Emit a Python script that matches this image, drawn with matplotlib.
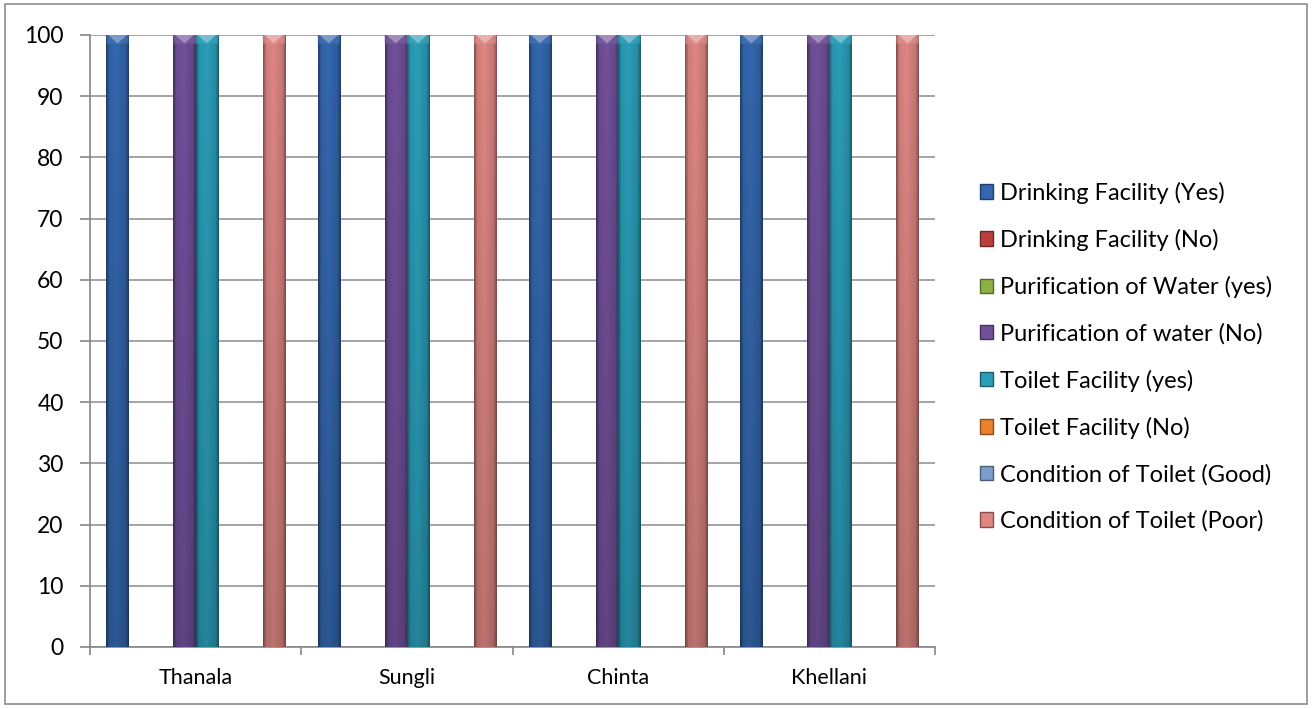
import numpy as np
import matplotlib
matplotlib.use("Agg")
import matplotlib.pyplot as plt
from matplotlib.patches import Rectangle, Polygon
from matplotlib.colors import to_rgb

plt.rcParams['font.family'] = ['Lato', 'DejaVu Sans']

villages = ["Thanala", "Sungli", "Chinta", "Khellani"]
series_names = [
    "Drinking Facility (Yes)",
    "Drinking Facility (No)",
    "Purification of Water (yes)",
    "Purification of water (No)",
    "Toilet Facility (yes)",
    "Toilet Facility (No)",
    "Condition of Toilet (Good)",
    "Condition of Toilet (Poor)",
]
drinking_yes = [100, 100, 100, 100]
drinking_no = [0, 0, 0, 0]
purification_yes = [0, 0, 0, 0]
purification_no = [100, 100, 100, 100]
toilet_yes = [100, 100, 100, 100]
toilet_no = [0, 0, 0, 0]
condition_good = [0, 0, 0, 0]
condition_poor = [100, 100, 100, 100]
series_values = [drinking_yes, drinking_no, purification_yes, purification_no,
                 toilet_yes, toilet_no, condition_good, condition_poor]
series_colors = ["#3467AE", "#B8403C", "#8DB046", "#71509A",
                 "#2B9DB8", "#E9822E", "#7E9CCB", "#DD8682"]


def shade(c, f):
    r = np.array(to_rgb(c))
    if f < 1:
        return tuple(r * f)
    return tuple(r + (1 - r) * (f - 1))


fig = plt.figure(figsize=(13.12, 7.08), dpi=100)
ax = fig.add_axes([0.0686, 0.0862, 0.6441, 0.8644])

n = len(series_names)
slot = 0.845 / n
x = np.arange(len(villages))

# horizontal profile for the bevelled look: dark edges, lighter middle
prof = np.concatenate([np.linspace(0.62, 0.95, 4), np.linspace(0.95, 1.0, 6),
                       np.linspace(1.0, 0.9, 8), np.linspace(0.9, 0.62, 4)])
vert = np.linspace(0.85, 1.0, 60)[:, None]

for j, (name, vals, col) in enumerate(zip(series_names, series_values, series_colors)):
    xs = x + (j - (n - 1) / 2) * slot
    bars = ax.bar(xs, vals, width=slot, color=col, edgecolor="none", zorder=3)
    base = np.array(to_rgb(col))
    for b in bars:
        h = b.get_height()
        if h <= 0:
            continue
        x0, w = b.get_x(), b.get_width()
        img = np.clip(base[None, None, :] * prof[None, :, None] * vert[:, :, None], 0, 1)
        ax.imshow(img, extent=(x0, x0 + w, 0, h), origin="lower", aspect="auto",
                  interpolation="bilinear", zorder=4, clip_path=b, clip_on=True)
        # light bevel cap on top of the bar
        cap = 1.4
        ax.add_patch(Polygon([(x0 + 0.08 * w, h), (x0 + 0.92 * w, h), (x0 + 0.5 * w, h - cap)],
                             closed=True, facecolor=shade(col, 1.35), edgecolor="none", zorder=5))
        ax.add_patch(Polygon([(x0, h), (x0 + 0.08 * w, h), (x0 + 0.5 * w, h - cap), (x0, h - cap)],
                             closed=True, facecolor=shade(col, 1.1), edgecolor="none", zorder=5, alpha=0.6))
        ax.add_patch(Polygon([(x0 + w, h), (x0 + 0.92 * w, h), (x0 + 0.5 * w, h - cap), (x0 + w, h - cap)],
                             closed=True, facecolor=shade(col, 1.1), edgecolor="none", zorder=5, alpha=0.6))

ax.set_xlim(-0.5, len(villages) - 0.5)
ax.set_ylim(0, 100)
ax.set_yticks(np.arange(0, 101, 10))
ax.set_xticks(x)
ax.set_xticklabels(villages)
ax.set_xticks(np.arange(-0.5, len(villages), 1.0), minor=True)
ax.tick_params(axis="x", which="major", length=0, pad=15, labelsize=15.5)
ax.tick_params(axis="x", which="minor", length=6, color="#868686", width=1.2, direction="out")
ax.tick_params(axis="y", length=7, color="#868686", width=1.2, labelsize=16.5, pad=12)
ax.yaxis.grid(True, color="#8c8c8c", linewidth=1.1, zorder=0)
ax.set_axisbelow(True)
for s in ["top", "right"]:
    ax.spines[s].set_visible(False)
for s in ["left", "bottom"]:
    ax.spines[s].set_color("#868686")
    ax.spines[s].set_linewidth(1.2)

# legend on the right
handles = [Rectangle((0, 0), 1, 1, facecolor=c, edgecolor=shade(c, 0.6), linewidth=1.0)
           for c in series_colors]
fig.legend(handles, series_names, loc="center left", bbox_to_anchor=(0.731, 0.496),
           frameon=False, fontsize=17, handlelength=0.55, handleheight=0.55,
           handletextpad=0.3, labelspacing=1.06)

# outer chart border
fig.add_artist(Rectangle((0.004, 0.006), 0.992, 0.988, transform=fig.transFigure,
                         fill=False, edgecolor="#8c8c8c", linewidth=1.2))

fig.savefig("out.png", dpi=100, facecolor="white")
